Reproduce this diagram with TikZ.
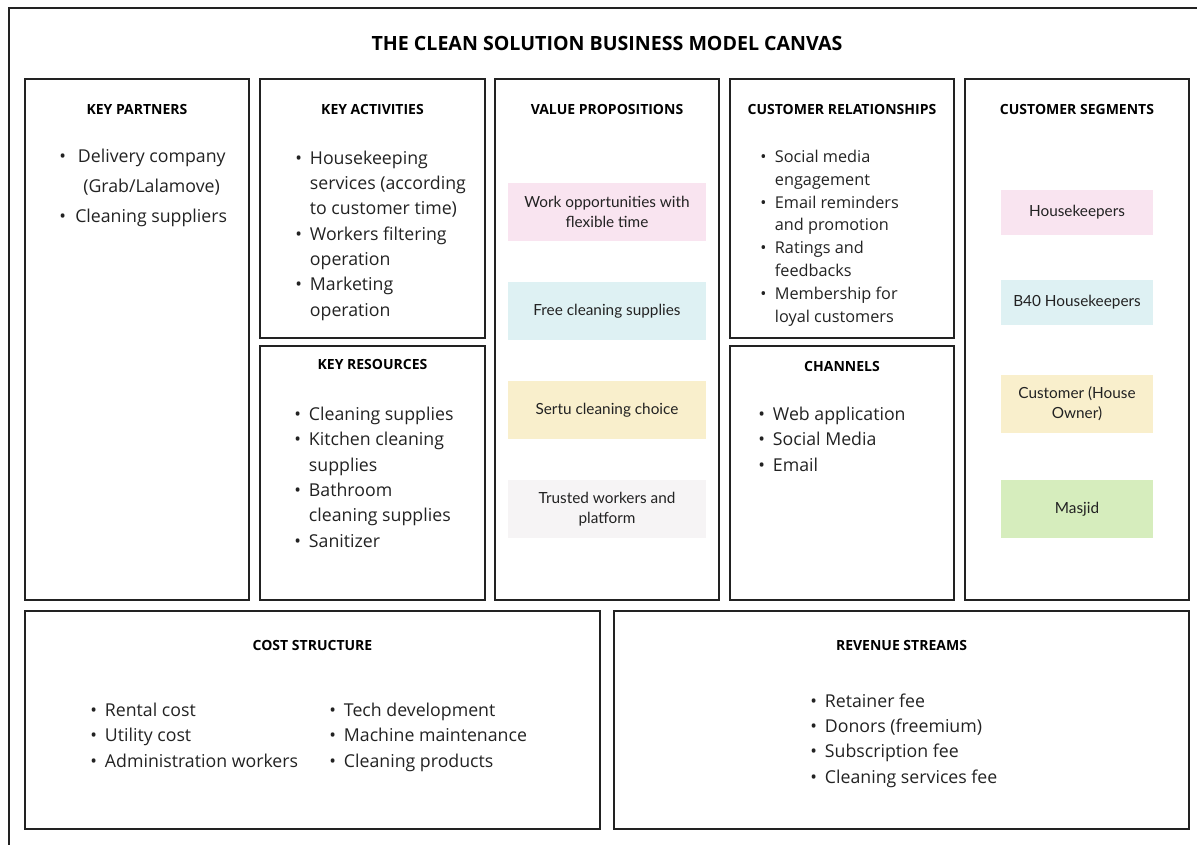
\documentclass[tikz,border=0pt]{standalone}
\usepackage{fontspec}
\setmainfont{Open Sans}
\newfontfamily\notefont{Lato}
\usetikzlibrary{fit}

\definecolor{ink}{HTML}{222222}
\definecolor{notepink}{HTML}{F9E4F0}
\definecolor{noteblue}{HTML}{DEF1F3}
\definecolor{noteyellow}{HTML}{F9EFCC}
\definecolor{notegrey}{HTML}{F6F4F5}
\definecolor{notegreen}{HTML}{D6EDBD}

\tikzset{
	box/.style={draw=ink, line width=1.6pt, inner sep=0pt},
	head/.style={font=\bfseries\fontsize{10.5}{12}\selectfont, text=black},
	list/.style={anchor=base west, align=left, inner sep=0pt, text=ink,
		font=\fontsize{13.3}{19}\selectfont},
	note/.style={inner sep=2pt, align=center, text=ink,
		font=\notefont\fontsize{11.5}{15}\selectfont},
}
\newcommand{\bl}{\makebox[11pt][l]{\textbullet}}
\newcommand{\ind}{\hspace*{11pt}}

\begin{document}
\begin{tikzpicture}[x=0.75pt, y=-0.75pt]
	\useasboundingbox (0,0) rectangle (1197,845);
	\draw[ink, line width=1.6pt] (1197,8) -- (9,8) -- (9,845);

	\node[font=\bfseries\fontsize{14.7}{17}\selectfont] (title) at (607,43)
		{THE CLEAN SOLUTION BUSINESS MODEL CANVAS};

	% canvas blocks
	\node[box, fit={(25,79) (249,600)}] (kp) {};
	\node[box, fit={(260,79) (485,338)}] (ka) {};
	\node[box, fit={(260,346) (485,600)}] (kr) {};
	\node[box, fit={(495,79) (719,600)}] (vp) {};
	\node[box, fit={(730,79) (954,338)}] (cr) {};
	\node[box, fit={(730,346) (954,600)}] (ch) {};
	\node[box, fit={(965,79) (1189,600)}] (cs) {};
	\node[box, fit={(25,611) (600,829)}] (cost) {};
	\node[box, fit={(614,611) (1189,829)}] (rev) {};

	% headings
	\node[head] (kph) at ([yshift=-23.5pt]kp.north) {KEY PARTNERS};
	\node[head] (kah) at ([yshift=-23.5pt]ka.north) {KEY ACTIVITIES};
	\node[head] (krh) at ([yshift=-15pt]kr.north) {KEY RESOURCES};
	\node[head] (vph) at ([yshift=-23.5pt]vp.north) {VALUE PROPOSITIONS};
	\node[head] (crh) at ([yshift=-23.5pt]cr.north) {CUSTOMER RELATIONSHIPS};
	\node[head] (chh) at ([yshift=-16.3pt]ch.north) {CHANNELS};
	\node[head] (csh) at ([yshift=-23.5pt]cs.north) {CUSTOMER SEGMENTS};
	\node[head] (costh) at ([yshift=-27pt]cost.north) {COST STRUCTURE};
	\node[head] (revh) at ([yshift=-27pt]rev.north) {REVENUE STREAMS};

	% lists (placed at the baseline of their last line)
	\node[list, font=\fontsize{13.3}{22.5}\selectfont] (kpl) at (59,223)
		{\makebox[14pt][l]{\textbullet}Delivery company\\
		 \hspace*{18pt}(Grab/Lalamove)\\
		 \makebox[12pt][l]{\textbullet}Cleaning suppliers};
	\node[list] (kal) at (295,316)
		{\bl Housekeeping\\ \ind services (according\\ \ind to customer time)\\
		 \bl Workers filtering\\ \ind operation\\
		 \bl Marketing\\ \ind operation};
	\node[list] (krl) at (294,547)
		{\bl Cleaning supplies\\
		 \bl Kitchen cleaning\\ \ind supplies\\
		 \bl Bathroom\\ \ind cleaning supplies\\
		 \bl Sanitizer};
	\node[list, font=\fontsize{12.2}{17.1}\selectfont] (crl) at (760,322)
		{\bl Social media\\ \ind engagement\\
		 \bl Email reminders\\ \ind and promotion\\
		 \bl Ratings and\\ \ind feedbacks\\
		 \bl Membership for\\ \ind loyal customers};
	\node[list] (chl) at (758,471)
		{\bl Web application\\ \bl Social Media\\ \bl Email};
	\node[list] (costl) at (90,767)
		{\bl Rental cost\\ \bl Utility cost\\ \bl Administration workers};
	\node[list] (costr) at (329,767)
		{\bl Tech development\\ \bl Machine maintenance\\ \bl Cleaning products};
	\node[list] (revl) at (810,783)
		{\bl Retainer fee\\ \bl Donors (freemium)\\ \bl Subscription fee\\
		 \bl Cleaning services fee};

	% value propositions
	\node[note, fill=notepink, minimum width=148.5pt, minimum height=43.5pt] (vp1) at (607,212)
		{Work opportunities with\\ flexible time};
	\node[note, fill=noteblue, minimum width=148.5pt, minimum height=43.5pt] (vp2) at (607,311)
		{Free cleaning supplies};
	\node[note, fill=noteyellow, minimum width=148.5pt, minimum height=43.5pt] (vp3) at (607,410)
		{Sertu cleaning choice};
	\node[note, fill=notegrey, minimum width=148.5pt, minimum height=43.5pt] (vp4) at (607,509)
		{Trusted workers and\\ platform};

	% customer segments
	\node[note, fill=notepink, minimum width=114pt, minimum height=33.8pt] (cs1) at (1077,212.5)
		{Housekeepers};
	\node[note, fill=noteblue, minimum width=114pt, minimum height=33.8pt] (cs2) at (1077,302.5)
		{B40 Housekeepers};
	\node[note, fill=noteyellow, minimum width=114pt, minimum height=43.5pt] (cs3) at (1077,404)
		{Customer (House\\ Owner)};
	\node[note, fill=notegreen, minimum width=114pt, minimum height=43.5pt] (cs4) at (1077,509)
		{Masjid};
\end{tikzpicture}
\end{document}
